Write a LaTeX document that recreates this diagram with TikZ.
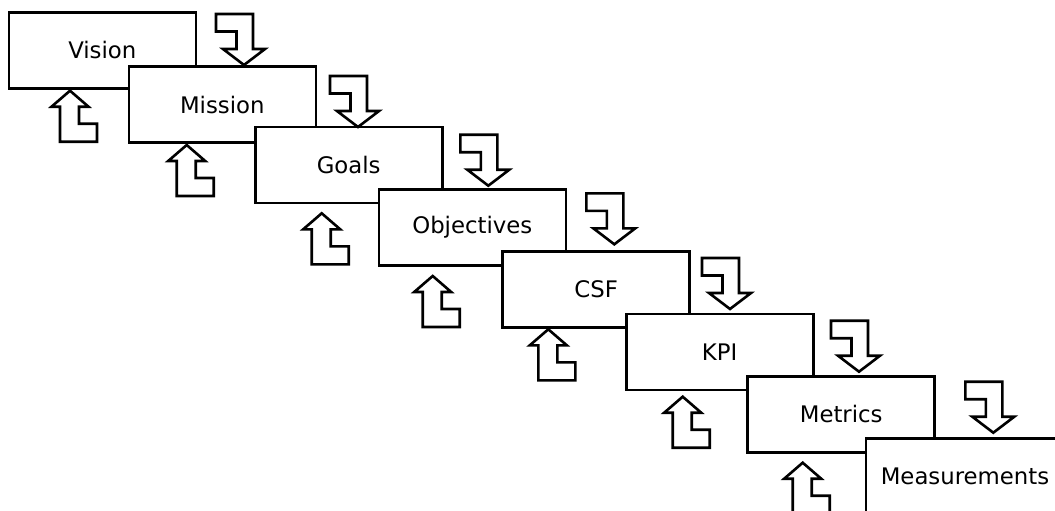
\documentclass[tikz,border=0pt]{standalone}
\usepackage{fontspec}
\setmainfont{DejaVu Sans}
\tikzset{
  stepbox/.style={draw, line width=2.6pt, fill=white, minimum width=187pt,
    minimum height=76pt, inner sep=0pt, font=\fontsize{22.8}{26}\selectfont},
  blockarrow/.style={draw, line width=2.6pt, fill=white, line join=miter},
  pics/downarr/.style={code={\draw[blockarrow] (-28,-51) -- (9,-51) -- (9,-16) -- (21,-16)
      -- (0,0) -- (-21,-16) -- (-7.5,-16) -- (-7.5,-33.5) -- (-28,-33.5) -- cycle;}},
  pics/uparr/.style={code={\draw[blockarrow] (-10,51) -- (27,51) -- (27,33) -- (9,33)
      -- (9,16) -- (18.5,16) -- (0,0) -- (-18.5,16) -- (-10,16) -- cycle;}},
}
\begin{document}
\begin{tikzpicture}[x=1pt, y=-1pt]
  \path[use as bounding box] (0,0) rectangle (1055,511);
  \clip (0,0) rectangle (1055,511);
  % boxes
  \node[stepbox] (vision)  at (102.3,50.3)  {Vision};
  \pic at (70,90.7) {uparr};
  \node[stepbox] (mission) at (222.3,104.5) {Mission};
  \pic at (244,65) {downarr};
  \pic at (186.7,145) {uparr};
  \node[stepbox] (goals)   at (348.7,165)   {Goals};
  \pic at (358,127) {downarr};
  \pic at (321.7,213.3) {uparr};
  \node[stepbox] (objectives) at (472.3,227.3) {Objectives};
  \pic at (488.3,185.7) {downarr};
  \pic at (432.7,276) {uparr};
  \node[stepbox] (csf) at (596.2,289.3) {CSF};
  \pic at (614.3,244.3) {downarr};
  \pic at (548.3,329.3) {uparr};
  \node[stepbox] (kpi) at (719.7,351.8) {KPI};
  \pic at (730,309) {downarr};
  \pic at (682.7,396.7) {uparr};
  \node[stepbox] (metrics) at (841.2,414.3) {Metrics};
  \pic at (859,371.7) {downarr};
  \pic at (802.7,462.7) {uparr};
  \node[stepbox, minimum width=198pt] (measurements) at (965,476.3) {Measurements};
  \pic at (993.3,432.7) {downarr};
\end{tikzpicture}
\end{document}
